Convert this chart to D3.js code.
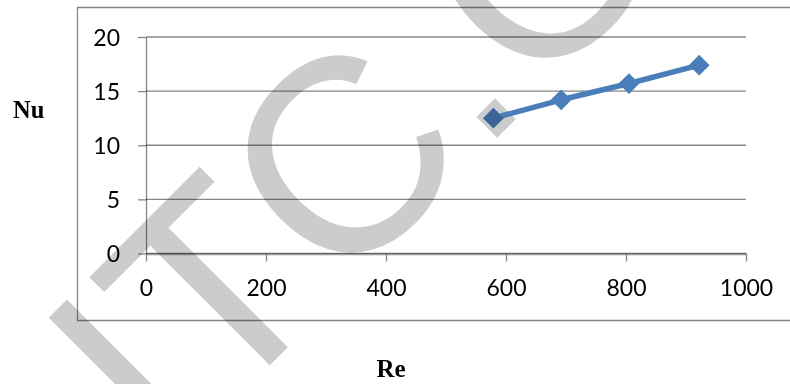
<!DOCTYPE html>
<html>
<head>
<meta charset="utf-8">
<script src="https://cdn.jsdelivr.net/npm/d3@7"></script>
<style>
  html, body { margin: 0; padding: 0; background: #ffffff; }
  svg { display: block; }
</style>
</head>
<body>
<svg id="chart" width="790" height="384"></svg>
<script>
// Nusselt number against Reynolds number
const reValues = [579, 692, 805, 922];
const nuValues = [12.5, 14.2, 15.7, 17.4];
const xTicks = [0, 200, 400, 600, 800, 1000];
const yTicks = [0, 5, 10, 15, 20];
const xTitle = "Re";
const yTitle = "Nu";
const watermarkText = "ITC.ORG";

const svg = d3.select("#chart");
const W = 790, H = 384;

const x = d3.scaleLinear().domain([0, 1000]).range([146, 746]);
const y = d3.scaleLinear().domain([0, 20]).range([253.5, 37]);

const gridColor = "#868686";
const lineColor = "#4a7ebb";
const tickFont = "Lato, 'Open Sans', sans-serif";

const pts = reValues.map((r, i) => [r, nuValues[i]]);
const diamond = d3.symbol().type(d3.symbolSquare).size(215);
const markerTransform = d => `translate(${x(d[0])},${y(d[1])}) rotate(45)`;

// watermark text, reused as an overlay on the markers
function addWatermark(sel) {
  return sel.append("text")
    .attr("transform", "translate(165,470) rotate(-45)")
    .attr("font-family", "'Liberation Sans', Arial, sans-serif")
    .attr("font-size", 276)
    .style("font-kerning", "none")
    .attr("fill", "#cccccc")
    .text(watermarkText);
}
addWatermark(svg);

// chart frame
const frame = svg.append("g").style("mix-blend-mode", "multiply");
frame.append("path")
  .attr("d", `M${W + 5},7.5H77.5V320.5H${W + 5}`)
  .attr("fill", "none")
  .attr("stroke", gridColor)
  .attr("stroke-width", 1.3);

// horizontal gridlines
const grid = svg.append("g").style("mix-blend-mode", "multiply");
grid.selectAll("line")
  .data(yTicks)
  .join("line")
  .attr("x1", x(0))
  .attr("x2", x(1000))
  .attr("y1", d => y(d))
  .attr("y2", d => y(d))
  .attr("stroke", gridColor)
  .attr("stroke-width", 1.3);

// y axis
const yAxis = svg.append("g")
  .attr("transform", `translate(${x(0)},0)`)
  .style("mix-blend-mode", "multiply")
  .call(d3.axisLeft(y).tickValues(yTicks).tickSizeInner(8).tickSizeOuter(0).tickFormat(d3.format("d")));
yAxis.select(".domain").attr("stroke", gridColor).attr("stroke-width", 1.3);
yAxis.selectAll(".tick line").attr("stroke", gridColor).attr("stroke-width", 1.3);
yAxis.selectAll(".tick text")
  .attr("x", -26)
  .attr("dy", null)
  .attr("y", 8.2)
  .attr("text-anchor", "end")
  .attr("fill", "#000")
  .attr("font-family", tickFont)
  .attr("font-size", 23);

// x axis
const xAxis = svg.append("g")
  .attr("transform", `translate(0,${y(0)})`)
  .style("mix-blend-mode", "multiply")
  .call(d3.axisBottom(x).tickValues(xTicks).tickSizeInner(8).tickSizeOuter(0).tickFormat(d3.format("d")));
xAxis.select(".domain").attr("stroke", gridColor).attr("stroke-width", 1.3);
xAxis.selectAll(".tick line").attr("stroke", gridColor).attr("stroke-width", 1.3);
xAxis.selectAll(".tick text")
  .attr("dy", null)
  .attr("y", 42.5)
  .attr("fill", "#000")
  .attr("font-family", tickFont)
  .attr("font-size", 23);

// series line
svg.append("path")
  .datum(pts)
  .attr("d", d3.line().x(d => x(d[0])).y(d => y(d[1])))
  .attr("fill", "none")
  .attr("stroke", lineColor)
  .attr("stroke-width", 5.5)
  .attr("stroke-linejoin", "round");

// diamond markers
svg.append("g")
  .selectAll("path")
  .data(pts)
  .join("path")
  .attr("d", diamond)
  .attr("transform", markerTransform)
  .attr("fill", lineColor);

// watermark tint over the markers
const clip = svg.append("defs").append("clipPath").attr("id", "marker-clip");
clip.selectAll("path")
  .data(pts)
  .join("path")
  .attr("d", diamond)
  .attr("transform", markerTransform);
const tint = svg.append("g")
  .attr("clip-path", "url(#marker-clip)")
  .style("mix-blend-mode", "multiply");
addWatermark(tint);

// axis titles
svg.append("text")
  .attr("x", 13)
  .attr("y", 118)
  .attr("font-family", "'Liberation Serif', 'Times New Roman', serif")
  .attr("font-weight", "bold")
  .attr("font-size", 24.5)
  .attr("fill", "#000")
  .text(yTitle);

svg.append("text")
  .attr("x", 376.5)
  .attr("y", 376.5)
  .attr("font-family", "'Liberation Serif', 'Times New Roman', serif")
  .attr("font-weight", "bold")
  .attr("font-size", 25)
  .attr("fill", "#000")
  .text(xTitle);
</script>
</body>
</html>
